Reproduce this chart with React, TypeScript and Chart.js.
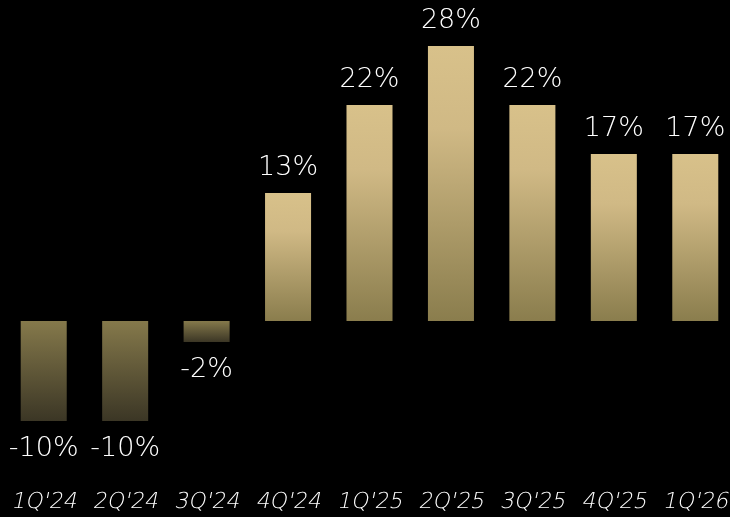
import React, { useEffect, useRef } from "react";
import { Chart, registerables } from "chart.js";

Chart.register(...registerables);

const categories = ["1Q'24", "2Q'24", "3Q'24", "4Q'24", "1Q'25", "2Q'25", "3Q'25", "4Q'25", "1Q'26"];
const values = [-10, -10, -2.1, 12.8, 21.6, 27.5, 21.6, 16.7, 16.7];
const valueLabels = ["-10%", "-10%", "-2%", "13%", "22%", "28%", "22%", "17%", "17%"];

const FONT = "'DejaVu Sans', Lato, sans-serif";

const labelPlugin = {
  id: "valueLabels",
  afterDatasetsDraw(chart: any) {
    const ctx = chart.ctx;
    const meta = chart.getDatasetMeta(0);
    ctx.save();
    ctx.font = `200 27px ${FONT}`;
    ctx.fillStyle = "#ffffff";
    ctx.textAlign = "center";
    ctx.textBaseline = "alphabetic";
    meta.data.forEach((bar: any, i: number) => {
      const v = values[i];
      const y = v >= 0 ? bar.y - 18 : bar.y + 35;
      ctx.fillText(valueLabels[i], bar.x, y);
    });
    ctx.restore();
  },
};

// draws the x-axis category labels as thin slanted text
const axisLabelPlugin = {
  id: "axisLabels",
  afterDraw(chart: any) {
    const ctx = chart.ctx;
    const xScale = chart.scales.x;
    const area = chart.chartArea;
    ctx.save();
    ctx.font = `200 22px ${FONT}`;
    ctx.fillStyle = "#ffffff";
    ctx.textAlign = "center";
    ctx.textBaseline = "alphabetic";
    xScale.ticks.forEach((_t: any, i: number) => {
      const x = xScale.getPixelForTick(i);
      ctx.save();
      ctx.translate(x, area.bottom + 32);
      ctx.transform(1, 0, -0.21, 1, 0, 0);
      ctx.fillText(String(xScale.getLabelForValue(i)), 0, 0);
      ctx.restore();
    });
    ctx.restore();
  },
};

function barColor(context: any) {
  const chart = context.chart;
  const i = context.dataIndex;
  const yScale = chart.scales?.y;
  const v = values[i];
  const fallback = v >= 0 ? "#b9a46e" : "#6a5f3e";
  if (!yScale || v === undefined) return fallback;
  const p0 = yScale.getPixelForValue(0);
  const p1 = yScale.getPixelForValue(v);
  if (!isFinite(p0) || !isFinite(p1) || p0 === p1) return fallback;
  const top = Math.min(p0, p1);
  const bottom = Math.max(p0, p1);
  const g = chart.ctx.createLinearGradient(0, top, 0, bottom);
  if (v >= 0) {
    g.addColorStop(0, "#d8c18a");
    g.addColorStop(0.3, "#d0b985");
    g.addColorStop(1, "#8a7d4d");
  } else {
    g.addColorStop(0, "#85794b");
    g.addColorStop(1, "#3b3625");
  }
  return g;
}

export default function App() {
  const canvasRef = useRef<HTMLCanvasElement | null>(null);

  useEffect(() => {
    if (!canvasRef.current) return;
    const chart = new Chart(canvasRef.current, {
      type: "bar",
      data: {
        labels: categories,
        datasets: [
          {
            data: values,
            backgroundColor: barColor,
            borderWidth: 0,
            categoryPercentage: 1,
            barPercentage: 0.565,
          },
        ],
      },
      options: {
        animation: false,
        responsive: true,
        maintainAspectRatio: false,
        layout: { padding: { left: 3, right: 4, top: 0, bottom: 0 } },
        plugins: {
          legend: { display: false },
          tooltip: { enabled: false },
        },
        scales: {
          x: {
            grid: { display: false, drawTicks: false },
            border: { display: false },
            ticks: {
              color: "rgba(0,0,0,0)",
              padding: 0,
              font: { family: FONT, size: 21, weight: "200", lineHeight: "54px" },
              maxRotation: 0,
              autoSkip: false,
            },
          },
          y: {
            display: false,
            min: -15.5,
            max: 32.1,
          },
        },
      },
      plugins: [labelPlugin, axisLabelPlugin],
    });
    return () => chart.destroy();
  }, []);

  return (
    <div
      style={{
        position: "absolute",
        left: 0,
        top: 0,
        width: 730,
        height: 517,
        overflow: "hidden",
        background: "#000",
      }}
    >
      <div style={{ position: "relative", width: 740, height: 530 }}>
        <canvas ref={canvasRef} />
      </div>
    </div>
  );
}
